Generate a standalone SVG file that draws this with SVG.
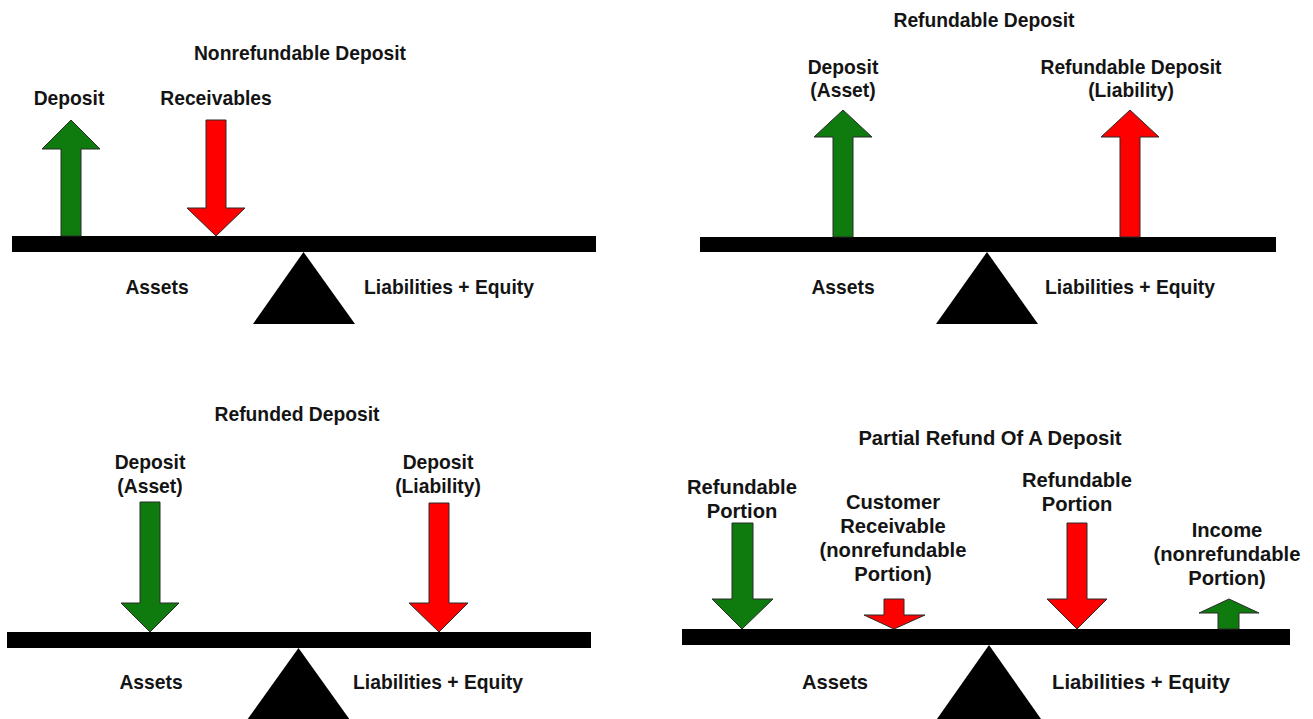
<svg xmlns="http://www.w3.org/2000/svg" width="1313" height="719" viewBox="0 0 1313 719">
<style>
text{font-family:"Liberation Sans",Arial,sans-serif;font-weight:bold;fill:#141414;text-anchor:middle;font-size:19.3px}
.t4{font-size:20.2px}
.bar{fill:#000}
.ful{fill:#000}
.g{fill:#0f7b0f;stroke:#2a2a2a;stroke-width:1}
.r{fill:#ff0000;stroke:#2a2a2a;stroke-width:1}
</style>
<rect width="1313" height="719" fill="#fff"/>

<g id="panel-nonrefundable">
  <text x="300" y="60">Nonrefundable Deposit</text>
  <g id="q1-scale">
    <rect class="bar" x="12" y="236" width="584" height="16"/>
    <polygon class="ful" points="303.5,252 355,324 253,324"/>
  </g>
  <text x="157" y="294">Assets</text>
  <text x="449" y="294">Liabilities + Equity</text>
  <g id="q1-deposit">
    <text x="69" y="105">Deposit</text>
    <polygon class="g" points="71,120 100,149 81,149 81,236 61,236 61,149 42,149"/>
  </g>
  <g id="q1-receivables">
    <text x="216" y="105">Receivables</text>
    <polygon class="r" points="206,120 226,120 226,208 245,208 216,236 187,208 206,208"/>
  </g>
</g>

<g id="panel-refundable">
  <text x="984" y="27">Refundable Deposit</text>
  <g id="q2-scale">
    <rect class="bar" x="700" y="237" width="576" height="15"/>
    <polygon class="ful" points="987,252 1038,324 936,324"/>
  </g>
  <text x="843" y="294">Assets</text>
  <text x="1130" y="294">Liabilities + Equity</text>
  <g id="q2-deposit-asset">
    <text x="843" y="74">Deposit</text>
    <text x="843" y="97">(Asset)</text>
    <polygon class="g" points="843,110 872,137 853,137 853,237 833,237 833,137 814,137"/>
  </g>
  <g id="q2-deposit-liability">
    <text x="1131" y="74">Refundable Deposit</text>
    <text x="1131" y="97">(Liability)</text>
    <polygon class="r" points="1130,110 1159,137 1140,137 1140,237 1120,237 1120,137 1101,137"/>
  </g>
</g>

<g id="panel-refunded">
  <text x="297" y="421">Refunded Deposit</text>
  <g id="q3-scale">
    <rect class="bar" x="7" y="632" width="584" height="16"/>
    <polygon class="ful" points="298.5,648 350,720 247,720"/>
  </g>
  <text x="151" y="689">Assets</text>
  <text x="438" y="689">Liabilities + Equity</text>
  <g id="q3-deposit-asset">
    <text x="150" y="469">Deposit</text>
    <text x="150" y="493">(Asset)</text>
    <polygon class="g" points="140,502 160,502 160,603 179,603 150,632 121,603 140,603"/>
  </g>
  <g id="q3-deposit-liability">
    <text x="438" y="469">Deposit</text>
    <text x="438" y="493">(Liability)</text>
    <polygon class="r" points="429,503 449,503 449,603 468,603 439,632 409,603 429,603"/>
  </g>
</g>

<g id="panel-partial">
  <text class="t4" x="990" y="445">Partial Refund Of A Deposit</text>
  <g id="q4-scale">
    <rect class="bar" x="682" y="629" width="608" height="16"/>
    <polygon class="ful" points="989,645 1041,719 937,719"/>
  </g>
  <text class="t4" x="835" y="689">Assets</text>
  <text class="t4" x="1141" y="689">Liabilities + Equity</text>
  <g id="q4-refundable-asset">
    <text class="t4" x="742" y="494">Refundable</text>
    <text class="t4" x="742" y="518">Portion</text>
    <polygon class="g" points="732,523 753,523 753,599 773,599 742,629 712,599 732,599"/>
  </g>
  <g id="q4-customer-receivable">
    <text class="t4" x="893" y="509">Customer</text>
    <text class="t4" x="893" y="533">Receivable</text>
    <text class="t4" x="893" y="557">(nonrefundable</text>
    <text class="t4" x="893" y="581">Portion)</text>
    <polygon class="r" points="884,599 904,599 904,615 925,615 894,629 864,615 884,615"/>
  </g>
  <g id="q4-refundable-liability">
    <text class="t4" x="1077" y="487">Refundable</text>
    <text class="t4" x="1077" y="511">Portion</text>
    <polygon class="r" points="1067,523 1087,523 1087,599 1107,599 1077,629 1047,599 1067,599"/>
  </g>
  <g id="q4-income">
    <text class="t4" x="1227" y="537">Income</text>
    <text class="t4" x="1227" y="561">(nonrefundable</text>
    <text class="t4" x="1227" y="585">Portion)</text>
    <polygon class="g" points="1229,599 1259,613 1239,613 1239,629 1218,629 1218,613 1199,613"/>
  </g>
</g>
</svg>
